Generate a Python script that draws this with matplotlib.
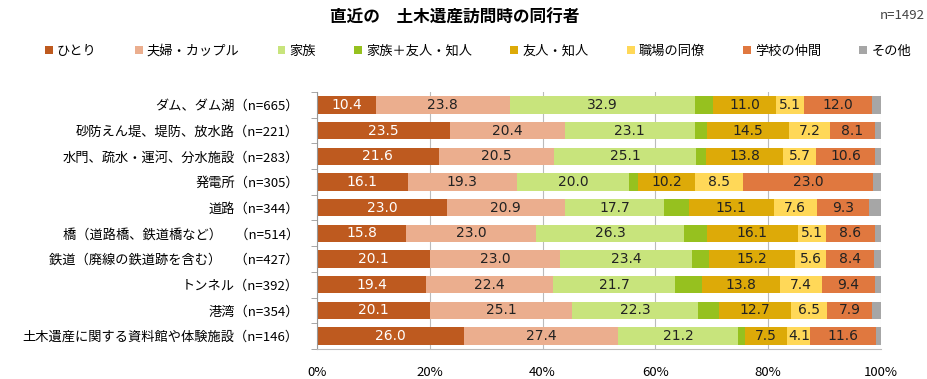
import numpy as np
import matplotlib
matplotlib.use("Agg")
import matplotlib.pyplot as plt
from matplotlib.patches import Patch

plt.rcParams['font.family'] = ['Noto Sans CJK JP', 'DejaVu Sans']

# データ（上から順）
categories = [
    "ダム、ダム湖（n=665）",
    "砂防えん堤、堤防、放水路（n=221）",
    "水門、疏水・運河、分水施設（n=283）",
    "発電所（n=305）",
    "道路（n=344）",
    "橋（道路橋、鉄道橋など）　（n=514）",
    "鉄道（廃線の鉄道跡を含む）　（n=427）",
    "トンネル（n=392）",
    "港湾（n=354）",
    "土木遺産に関する資料館や体験施設（n=146）",
]
series_names = ["ひとり", "夫婦・カップル", "家族", "家族＋友人・知人",
                "友人・知人", "職場の同僚", "学校の仲間", "その他"]

hitori  = [10.4, 23.5, 21.6, 16.1, 23.0, 15.8, 20.1, 19.4, 20.1, 26.0]
fufu    = [23.8, 20.4, 20.5, 19.3, 20.9, 23.0, 23.0, 22.4, 25.1, 27.4]
kazoku  = [32.9, 23.1, 25.1, 20.0, 17.7, 26.3, 23.4, 21.7, 22.3, 21.2]
kazoku_yujin = [3.2, 2.2, 1.7, 1.5, 4.3, 4.0, 3.0, 4.8, 3.8, 1.3]
yujin   = [11.0, 14.5, 13.8, 10.2, 15.1, 16.1, 15.2, 13.8, 12.7, 7.5]
shokuba = [5.1, 7.2, 5.7, 8.5, 7.6, 5.1, 5.6, 7.4, 6.5, 4.1]
gakko   = [12.0, 8.1, 10.6, 23.0, 9.3, 8.6, 8.4, 9.4, 7.9, 11.6]
sonota  = [1.6, 1.0, 1.0, 1.4, 2.1, 1.1, 1.3, 1.1, 1.6, 0.9]

series = [hitori, fufu, kazoku, kazoku_yujin, yujin, shokuba, gakko, sonota]
colors = ["#BE5A1F", "#EBAE8E", "#C8E47C", "#96C11F",
          "#DDAA08", "#FFD858", "#E0783F", "#A6A6A6"]
show_label = [True, True, True, False, True, True, True, False]
text_colors = ["white", "#222222", "#222222", "#222222",
               "#222222", "#222222", "#222222", "#222222"]

fig = plt.figure(figsize=(9.28, 3.79), dpi=100)
ax = fig.add_axes([317 / 928, 1 - 349 / 379, (881 - 317) / 928, (349 - 92) / 379])

y = np.arange(len(categories))
left = np.zeros(len(categories))
for vals, c, lab, tc, name in zip(series, colors, show_label, text_colors, series_names):
    vals = np.array(vals)
    ax.barh(y, vals, left=left, height=0.68, color=c, zorder=2, label=name)
    if lab:
        for yi, l, v in zip(y, left, vals):
            ax.text(l + v / 2, yi, f"{v:.1f}", ha="center", va="center",
                    fontsize=10, color=tc, zorder=3, family=['DejaVu Sans'])
    left += vals

ax.set_xlim(0, 100)
ax.set_ylim(len(categories) - 0.5, -0.5)
ax.set_yticks(y)
ax.set_yticklabels(categories, fontsize=9.5)
ax.tick_params(axis="y", length=0, pad=13)
# 左側の区切り目盛り
ax.set_yticks(np.arange(-0.5, len(categories), 1), minor=True)
ax.tick_params(axis="y", which="minor", length=4, color="#999999")
ax.set_xticks([0, 20, 40, 60, 80, 100])
ax.set_xticklabels(["0%", "20%", "40%", "60%", "80%", "100%"], fontsize=9.5)
ax.tick_params(axis="x", length=0, pad=12)
ax.grid(axis="x", color="#BBBBBB", linewidth=0.8, zorder=0)
for s in ["top", "right"]:
    ax.spines[s].set_visible(False)
ax.spines["left"].set_color("#999999")
ax.spines["bottom"].set_color("#BBBBBB")

fig.text(0.49, 0.952, "直近の　土木遺産訪問時の同行者", ha="center", va="center",
         fontsize=12, fontweight="bold")
fig.text(0.997, 0.96, "n=1492", ha="right", va="center", fontsize=9.5, color="#444444")

handles = [Patch(facecolor=c, edgecolor="none") for c in colors]
fig.legend(handles, series_names, loc="center", bbox_to_anchor=(0.515, 0.865),
           ncol=8, frameon=False, fontsize=9.5, handlelength=0.6, handleheight=0.6,
           handletextpad=0.3, columnspacing=2.9)

fig.savefig("out.png", dpi=100)
